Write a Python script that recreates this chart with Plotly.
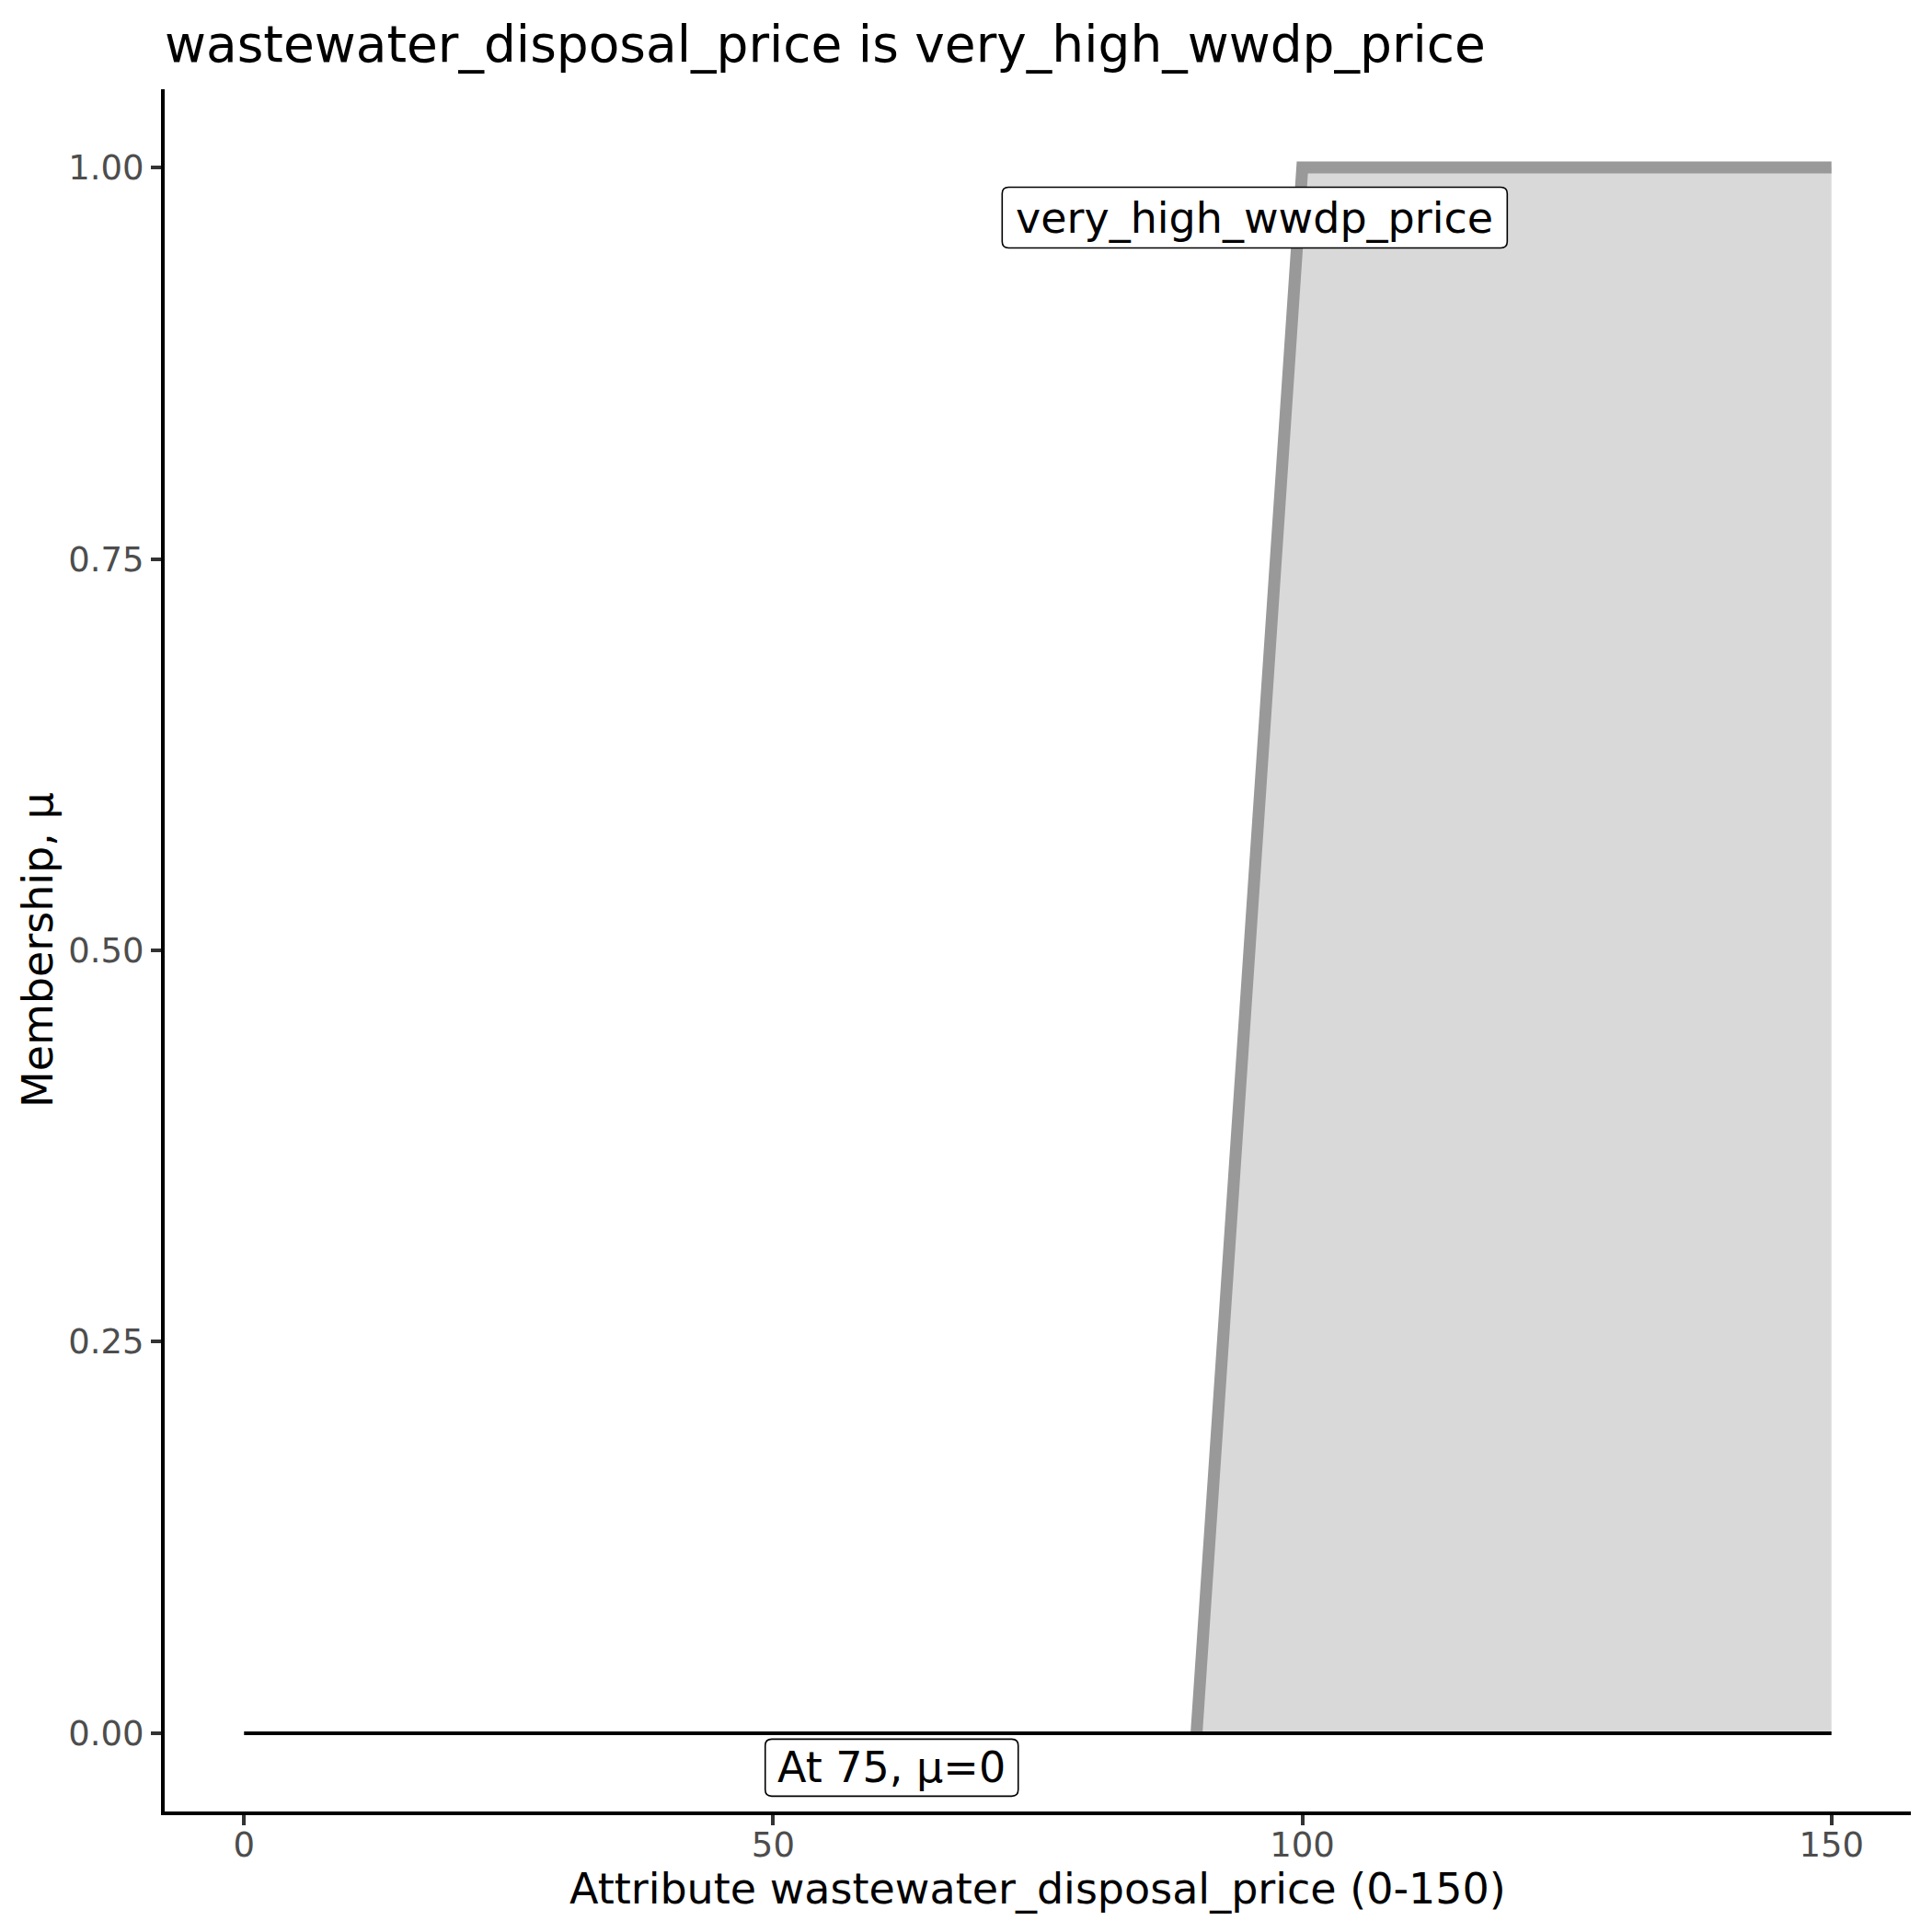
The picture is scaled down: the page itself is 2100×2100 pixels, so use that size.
import plotly.graph_objects as go

# Membership function for "very_high_wwdp_price"
mf_x = [90, 100, 150]
mf_y = [0, 1, 1]
# Shaded area under the membership function
fill_x = [90, 100, 150, 150]
fill_y = [0, 1, 1, 0]
# Evaluation line (membership at 75 is 0)
eval_x = [0, 150]
eval_y = [0, 0]

x_ticks = [0, 50, 100, 150]
y_ticks = [0, 0.25, 0.5, 0.75, 1.0]
y_tick_labels = ["0.00", "0.25", "0.50", "0.75", "1.00"]

set_label = "very_high_wwdp_price"
set_label_pos = (95.5, 0.968)
eval_label = "At 75, μ=0"
eval_label_pos = (61.2, -0.022)

title = "wastewater_disposal_price is very_high_wwdp_price"
x_title = "Attribute wastewater_disposal_price (0-150)"
y_title = "Membership, μ"

FONT = "DejaVu Sans"


def rounded_box(w, h, r):
    a, b = w / 2, h / 2
    return (f"M {-a + r},{-b} L {a - r},{-b} Q {a},{-b} {a},{-b + r} "
            f"L {a},{b - r} Q {a},{b} {a - r},{b} "
            f"L {-a + r},{b} Q {-a},{b} {-a},{b - r} "
            f"L {-a},{-b + r} Q {-a},{-b} {-a + r},{-b} Z")


fig = go.Figure()
fig.add_trace(go.Scatter(x=fill_x, y=fill_y, fill="toself", fillcolor="#D9D9D9",
                         mode="none", hoverinfo="skip", showlegend=False))
fig.add_trace(go.Scatter(x=mf_x, y=mf_y, mode="lines",
                         line=dict(color="#999999", width=13), showlegend=False))
fig.add_trace(go.Scatter(x=eval_x, y=eval_y, mode="lines",
                         line=dict(color="black", width=4), showlegend=False))

W, H = 2100, 2100
L, R, T, B = 171, 31, 89, 139

fig.update_layout(
    width=W, height=H,
    margin=dict(l=L, r=R, t=T, b=B),
    paper_bgcolor="white", plot_bgcolor="white",
    font=dict(family=FONT, color="black"),
    title=dict(text=title, x=L / W, xanchor="left", xref="container",
               y=1 - 40 / H, yanchor="middle", yref="container",
               font=dict(size=55, family=FONT, color="black")),
    showlegend=False,
)
fig.update_xaxes(
    range=[-7.5, 157.5], tickvals=x_ticks, ticktext=[str(v) for v in x_ticks],
    showline=True, linecolor="black", linewidth=4, mirror=False,
    ticks="outside", ticklen=11, tickwidth=4, tickcolor="#333333",
    tickfont=dict(size=37, color="#4D4D4D", family=FONT),
    ticklabelstandoff=-10,
    showgrid=False, zeroline=False,
)
fig.update_yaxes(
    range=[-0.05, 1.05], tickvals=y_ticks, ticktext=y_tick_labels,
    showline=True, linecolor="black", linewidth=4, mirror=False,
    ticks="outside", ticklen=11, tickwidth=4, tickcolor="#333333",
    tickfont=dict(size=37, color="#4D4D4D", family=FONT),
    showgrid=False, zeroline=False,
)

for (px, py), txt, bw, bh in [(set_label_pos, set_label, 549, 66),
                              (eval_label_pos, eval_label, 275, 62)]:
    fig.add_shape(type="path", xref="x", yref="y", xsizemode="pixel", ysizemode="pixel",
                  xanchor=px, yanchor=py, path=rounded_box(bw, bh, 7),
                  fillcolor="white", line=dict(color="black", width=1.6), layer="above")
    fig.add_annotation(x=px, y=py, text=txt, showarrow=False,
                       font=dict(size=46, color="black", family=FONT))

fig.add_annotation(x=0.5, y=0, xref="paper", yref="paper", yshift=-84,
                   text=x_title, showarrow=False, yanchor="middle",
                   font=dict(size=46, color="black", family=FONT))
fig.add_annotation(x=0, y=0.5, xref="paper", yref="paper", xshift=-138,
                   text=y_title, showarrow=False, textangle=-90, xanchor="center",
                   font=dict(size=46, color="black", family=FONT))

fig.write_html("out.html")
